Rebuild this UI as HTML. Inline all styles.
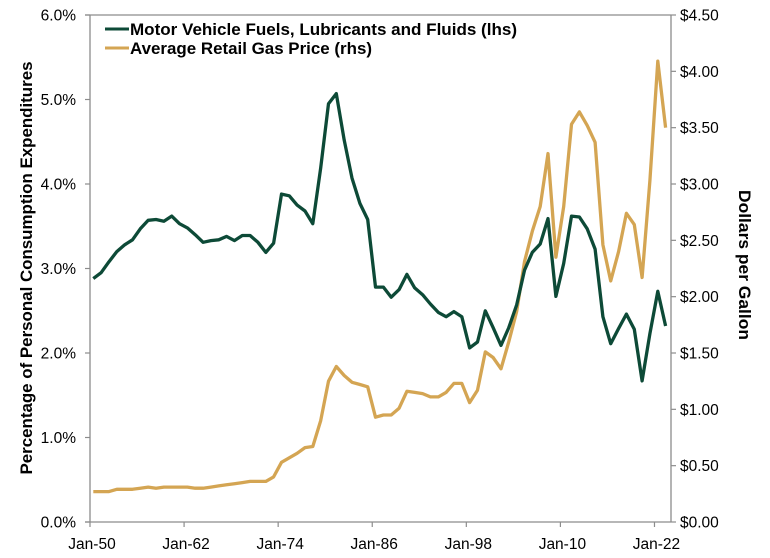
<!DOCTYPE html>
<html><head><meta charset="utf-8"><style>
body{margin:0;background:#fff}
svg{display:block;font-family:"Liberation Sans",Arial,sans-serif}
</style></head><body>
<svg id="chart" width="770" height="558" viewBox="0 0 770 558" xmlns="http://www.w3.org/2000/svg">
<g id="axes"></g>
<g id="series"></g>
<g>
<line x1="105" y1="29" x2="129" y2="29" stroke="#0d4a37" stroke-width="3"/>
<text x="130" y="35" font-size="16.5" font-weight="bold" fill="#000" textLength="387" lengthAdjust="spacingAndGlyphs">Motor Vehicle Fuels, Lubricants and Fluids (lhs)</text>
<line x1="105" y1="48" x2="129" y2="48" stroke="#d4a553" stroke-width="3"/>
<text x="130" y="54" font-size="16.5" font-weight="bold" fill="#000" textLength="242" lengthAdjust="spacingAndGlyphs">Average Retail Gas Price (rhs)</text>
</g>
<text transform="translate(32,268) rotate(-90)" text-anchor="middle" font-size="16.5" font-weight="bold" textLength="413" lengthAdjust="spacingAndGlyphs">Percentage of Personal Consumption Expenditures</text>
<text transform="translate(739,265) rotate(90)" text-anchor="middle" font-size="16.5" font-weight="bold" textLength="150" lengthAdjust="spacingAndGlyphs">Dollars per Gallon</text>
</svg>
<script>
const years = [];
for (let y = 1950; y <= 2023; y++) years.push(y);
const fuelShare = [2.88,2.95,3.08,3.20,3.28,3.34,3.47,3.57,3.58,3.56,3.62,3.53,3.48,3.40,3.31,3.33,3.34,3.38,3.33,3.39,3.39,3.31,3.19,3.30,3.88,3.86,3.75,3.68,3.53,4.19,4.95,5.07,4.52,4.07,3.77,3.58,2.78,2.78,2.66,2.75,2.93,2.77,2.69,2.58,2.48,2.43,2.49,2.43,2.06,2.13,2.50,2.30,2.09,2.30,2.57,2.98,3.19,3.29,3.59,2.67,3.06,3.62,3.61,3.47,3.23,2.43,2.11,2.29,2.46,2.28,1.67,2.23,2.73,2.32];
const gasPrice = [0.27,0.27,0.27,0.29,0.29,0.29,0.30,0.31,0.30,0.31,0.31,0.31,0.31,0.30,0.30,0.31,0.32,0.33,0.34,0.35,0.36,0.36,0.36,0.40,0.53,0.57,0.61,0.66,0.67,0.90,1.25,1.38,1.30,1.24,1.22,1.20,0.93,0.95,0.95,1.01,1.16,1.15,1.14,1.11,1.11,1.15,1.23,1.23,1.06,1.17,1.51,1.46,1.36,1.60,1.87,2.31,2.58,2.80,3.27,2.35,2.80,3.53,3.64,3.52,3.37,2.46,2.14,2.40,2.74,2.64,2.17,3.03,4.09,3.50];
const leftTicks = [0,1,2,3,4,5,6];
const leftTickLabels = ["0.0%","1.0%","2.0%","3.0%","4.0%","5.0%","6.0%"];
const rightTicks = [0,0.5,1,1.5,2,2.5,3,3.5,4,4.5];
const rightTickLabels = ["$0.00","$0.50","$1.00","$1.50","$2.00","$2.50","$3.00","$3.50","$4.00","$4.50"];
const xTickYears = [1950,1962,1974,1986,1998,2010,2022];
const xTickLabels = ["Jan-50","Jan-62","Jan-74","Jan-86","Jan-98","Jan-10","Jan-22"];

const X0 = 90, X1 = 671, YB = 522, YT = 15;
const xTick = yr => X0 + (yr - 1950) * 7.84;
const xPt = yr => X0 + (yr - 1950 + 0.42) * 7.84;
const yL = v => YB - (v / 6) * (YB - YT);
const yR = v => YB - (v / 4.5) * (YB - YT);
const NS = "http://www.w3.org/2000/svg";
function mk(tag, attrs, parent, txt) {
  const e = document.createElementNS(NS, tag);
  for (const k in attrs) e.setAttribute(k, attrs[k]);
  if (txt !== undefined) e.textContent = txt;
  parent.appendChild(e);
  return e;
}
const axes = document.getElementById('axes');
const series = document.getElementById('series');
const ac = "#8c8c8c";
let e;
e = mk('line', {x1:X0, y1:YT, x2:X0, y2:YB, stroke:ac, 'stroke-width':1.3}, axes);


e = mk('line', {x1:X1, y1:YT, x2:X1, y2:YB, stroke:ac, 'stroke-width':1.3}, axes);


e = mk('line', {x1:85, y1:YB, x2:X1, y2:YB, stroke:ac, 'stroke-width':1.3}, axes);


e = mk('line', {x1:85, y1:YT, x2:X1, y2:YT, stroke:ac, 'stroke-width':1.3}, axes);


leftTicks.forEach((v, i) => {
  mk('line', {x1:85, y1:yL(v), x2:X0, y2:yL(v), stroke:ac, 'stroke-width':1.2}, axes);
  const t = mk('text', {x:76, y:yL(v)+5.5, 'text-anchor':'end', 'font-size':15.5, fill:'#000'}, axes, leftTickLabels[i]);
  
  
});
rightTicks.forEach((v, i) => {
  mk('line', {x1:X1, y1:yR(v), x2:X1+5, y2:yR(v), stroke:ac, 'stroke-width':1.2}, axes);
  const t = mk('text', {x:680, y:yR(v)+5.5, 'text-anchor':'start', 'font-size':15.5, fill:'#000'}, axes, rightTickLabels[i]);
  
  
});
xTickYears.forEach((yr, i) => {
  mk('line', {x1:xTick(yr), y1:YB, x2:xTick(yr), y2:YB+5, stroke:ac, 'stroke-width':1.2}, axes);
  const t = mk('text', {x:xTick(yr)+2, y:549, 'text-anchor':'middle', 'font-size':15.5, fill:'#000'}, axes, xTickLabels[i]);
  
  
});
const gasPts = years.map((yr, i) => xPt(yr).toFixed(1) + ',' + yR(gasPrice[i]).toFixed(1)).join(' ');
const gasLine = mk('polyline', {points:gasPts, fill:'none', stroke:'#d4a553', 'stroke-width':3.3, 'stroke-linejoin':'round'}, series);


const fuelPts = years.map((yr, i) => xPt(yr).toFixed(1) + ',' + yL(fuelShare[i]).toFixed(1)).join(' ');
const fuelLine = mk('polyline', {points:fuelPts, fill:'none', stroke:'#0d4a37', 'stroke-width':3.3, 'stroke-linejoin':'round'}, series);


</script>
</body></html>
